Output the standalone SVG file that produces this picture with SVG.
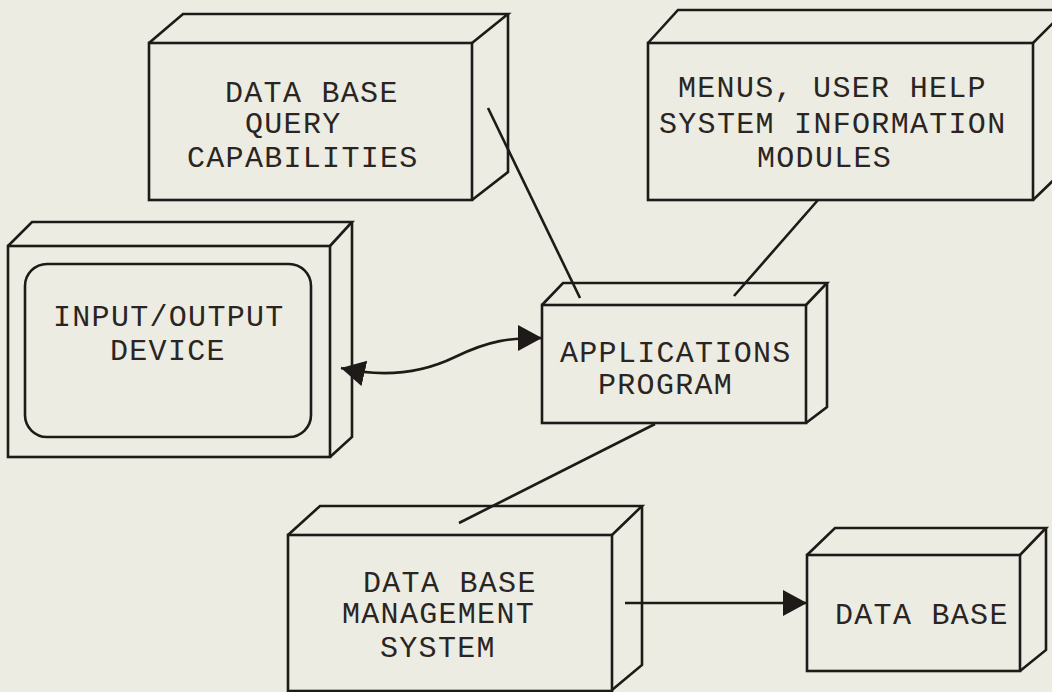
<svg xmlns="http://www.w3.org/2000/svg" width="1052" height="692" viewBox="0 0 1052 692">
<defs>
<style>
.bg{fill:#ECECE3}
.box{fill:none;stroke:#1e1a18;stroke-width:2.6;stroke-linejoin:miter}
.con{fill:none;stroke:#1e1a18;stroke-width:2.6}
.t{font-family:"Liberation Mono","DejaVu Sans Mono",monospace;font-size:30px;letter-spacing:1.3px;fill:#2a2522}
</style>
<marker id="ah" markerUnits="userSpaceOnUse" markerWidth="26" markerHeight="28" refX="24" refY="13" orient="auto-start-reverse" viewBox="0 0 26 28">
<path d="M0,0 L24,13 L0,26 z" fill="#1e1a18"/>
</marker>
</defs>
<rect class="bg" x="0" y="0" width="1052" height="692"/>

<g id="connectors">
<path class="con" d="M488,108 L580,298"/>
<path class="con" d="M818,200 L734,296"/>
<path class="con" d="M655,424 L459,523"/>
<path class="con" d="M341,368 C380,377 420,374 455,357 S510,338 542,338" marker-start="url(#ah)" marker-end="url(#ah)"/>
<path class="con" d="M625,603 L807,603" marker-end="url(#ah)"/>
</g>

<g id="dbquery">
<rect class="box" x="149" y="43" width="323" height="157"/>
<polyline class="box" points="149,43 183,14 508,14 472,43"/>
<polyline class="box" points="508,14 508,172 472,200"/>
<text class="t" x="225" y="102">DATA BASE</text>
<text class="t" x="245" y="133">QUERY</text>
<text class="t" x="187" y="167">CAPABILITIES</text>
</g>

<g id="menus">
<rect class="box" x="648" y="43" width="385" height="157"/>
<polyline class="box" points="648,43 678,10 1066,10 1033,43"/>
<polyline class="box" points="1066,10 1066,168 1033,200"/>
<text class="t" x="678" y="97">MENUS, USER HELP</text>
<text class="t" x="659" y="133">SYSTEM INFORMATION</text>
<text class="t" x="757" y="167">MODULES</text>
</g>

<g id="io">
<rect class="box" x="8" y="246" width="322" height="211"/>
<polyline class="box" points="8,246 32,222 352,222 330,246"/>
<polyline class="box" points="352,222 352,437 330,457"/>
<rect class="box" x="25" y="264" width="286" height="173" rx="22" ry="22"/>
<text class="t" x="53" y="326">INPUT/OUTPUT</text>
<text class="t" x="110" y="360">DEVICE</text>
</g>

<g id="apps">
<rect class="box" x="542" y="305" width="264" height="118"/>
<polyline class="box" points="542,305 563,283 827,283 806,305"/>
<polyline class="box" points="827,283 827,407 806,423"/>
<text class="t" x="560" y="362">APPLICATIONS</text>
<text class="t" x="598" y="394">PROGRAM</text>
</g>

<g id="dbms">
<rect class="box" x="288" y="535" width="324" height="156"/>
<polyline class="box" points="288,535 320,506 642,506 612,535"/>
<polyline class="box" points="642,506 642,665 612,690"/>
<text class="t" x="363" y="592">DATA BASE</text>
<text class="t" x="342" y="623">MANAGEMENT</text>
<text class="t" x="380" y="657">SYSTEM</text>
</g>

<g id="database">
<rect class="box" x="807" y="555" width="213" height="116"/>
<polyline class="box" points="807,555 835,528 1046,528 1020,555"/>
<polyline class="box" points="1046,528 1046,650 1020,671"/>
<text class="t" x="835" y="624">DATA BASE</text>
</g>
</svg>
